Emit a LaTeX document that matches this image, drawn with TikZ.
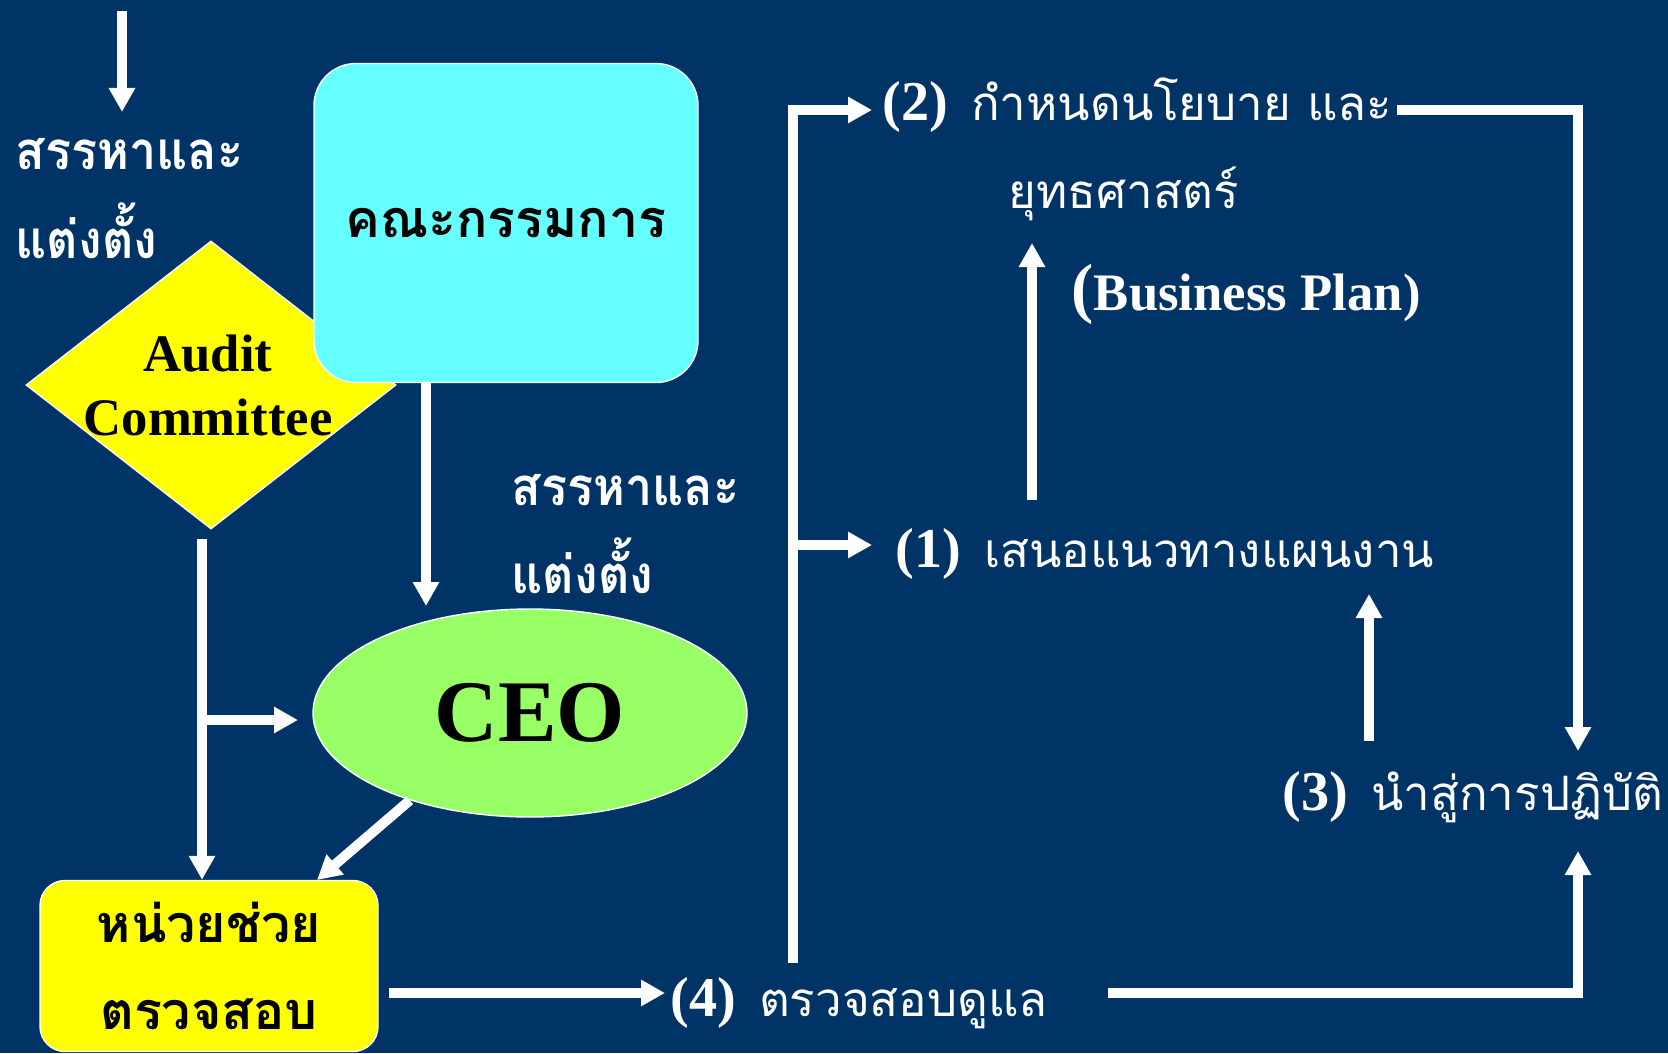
\documentclass[tikz,border=0pt]{standalone}
\usepackage{fontspec}
\setmainfont{Liberation Serif}
\newfontfamily\thaifont[Script=Thai]{Loma}
\newfontfamily\thainarrow[Script=Thai,FakeStretch=0.92]{Loma}
\usetikzlibrary{arrows.meta,shapes.geometric}

\definecolor{bgnavy}{RGB}{0,51,102}
\definecolor{boardcyan}{RGB}{102,255,255}
\definecolor{ceogreen}{RGB}{153,255,102}
\definecolor{audityellow}{RGB}{255,255,0}

\newcommand\stepno[1]{{\rmfamily\bfseries\fontsize{16}{19}\selectfont(#1)}\hspace{6.5pt}}

\tikzset{
  flow/.style={draw=white, line width=1mm, -{Triangle[width=2.5mm,length=2.4mm]}},
  wlabel/.style={text=white, inner sep=0pt, anchor=base west, font=\thaifont\fontsize{13.5}{16}\selectfont},
  wlabelb/.style={wlabel, font=\thainarrow\bfseries\fontsize{15}{18}\selectfont},
  blabel/.style={text=black, inner sep=0pt, align=center, font=\thaifont\bfseries\fontsize{14.8}{24.7}\selectfont},
}

\begin{document}
\begin{tikzpicture}[x=0.1mm, y=-0.1mm]
            \fill[bgnavy] (0,0) rectangle (1668,1053);
            \clip (0,0) rectangle (1668,1053);

            % shapes
            \node[diamond, fill=audityellow, draw=white, thin, minimum width=37mm, minimum height=28.8mm, inner sep=0pt] (audit) at (211,385) {};
            \node[text=black, inner sep=0pt, align=center, font=\bfseries\fontsize{15}{18.2}\selectfont] (auditlbl) at (208,385) {Audit\\Committee};
            \node[blabel, rectangle, rounded corners=4.2mm, fill=boardcyan, draw=white, minimum width=38.4mm, minimum height=31.9mm] (board) at (506,223) {คณะกรรมการ};
            \node[ellipse, fill=ceogreen, draw=white, minimum width=43.4mm, minimum height=20.8mm, font=\bfseries\fontsize{25}{30}\selectfont] (ceo) at (530,713) {CEO};
            \node[blabel, rectangle, rounded corners=2.5mm, fill=audityellow, draw=white, minimum width=33.8mm, minimum height=17.1mm] (unit) at (209,966) {หน่วยช่วย\\ตรวจสอบ};

            % texts
            \node[wlabelb] (pick1) at (15,170) {สรรหาและ};
            \node[wlabelb] (appoint1) at (15,258) {แต่งตั้ง};
            \node[wlabelb] (pick2) at (511,505) {สรรหาและ};
            \node[wlabelb] (appoint2) at (511,593) {แต่งตั้ง};
            \node[wlabel] (plan2) at (882,120) {\stepno{2}กำหนดนโยบาย และ};
            \node[wlabel] (strat) at (1008,208) {ยุทธศาสตร์};
            \node[text=white, inner sep=0pt, anchor=base west, font=\bfseries\fontsize{15}{18}\selectfont] (bplan) at (1071,310) {{\fontsize{19}{19}\selectfont(}Business Plan)};
            \node[wlabel] (plan1) at (895,567) {\stepno{1}เสนอแนวทางแผนงาน};
            \node[wlabel] (plan3) at (1282,810) {\stepno{3}นำสู่การปฏิบัติ};
            \node[wlabel] (plan4) at (670,1016) {\stepno{4}ตรวจสอบดูแล};

            % connector ends
            \coordinate (in1) at (122,11);
            \coordinate (in1end) at (122,112);
            \coordinate (b2c) at (426,606);
            \coordinate (a1) at (202,539);
            \coordinate (a2) at (298,720);
            \coordinate (c2u) at (317,880);
            \coordinate (u2s) at (665,993);
            \coordinate (s4out) at (1108,993);
            \coordinate (s3in) at (1578,851);
            \coordinate (s2out) at (1397,110);
            \coordinate (s3top) at (1578,751);
            \coordinate (s3up) at (1369,741);
            \coordinate (s1in) at (1369,594);
            \coordinate (s1up) at (1032,500);
            \coordinate (s2in) at (1032,243);
            \coordinate (loop) at (793,963);
            \coordinate (l2) at (872,110);
            \coordinate (l1) at (872,545);

            \draw[flow] (in1) -- (in1end);
            \draw[flow] (board.south -| b2c) -- (b2c);
            \draw[flow] (a1) -- (a1 |- unit.north);
            \draw[flow] (a1 |- a2) -- (a2);
            \draw[flow] (ceo.216) -- (c2u);
            \draw[flow] (unit.east |- u2s) ++(10,0) -- (u2s);
            \draw[flow] (s4out) -| (s3in);
            \draw[flow] (s2out) -| (s3top);
            \draw[flow] (s3up) -- (s1in);
            \draw[flow] (s1up) -- (s2in);
            \draw[flow] (loop) |- (l2);
            \draw[flow] (loop |- l1) -- (l1);

        \end{tikzpicture}
\end{document}
